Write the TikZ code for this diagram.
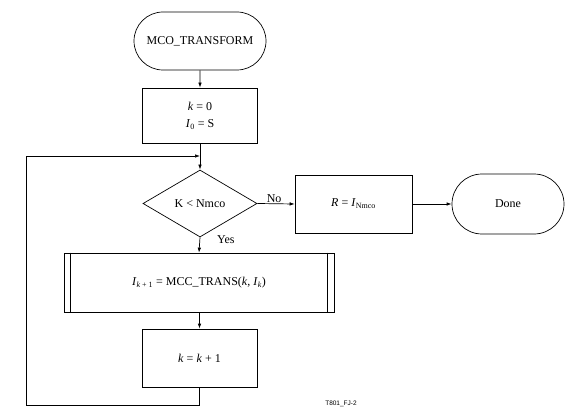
\documentclass[tikz,border=0pt]{standalone}
\usepackage{fontspec}
\setmainfont{Liberation Serif}
\setsansfont{Liberation Sans}
\usetikzlibrary{shapes.geometric,shapes.misc,arrows.meta}
\tikzset{
  base/.style={draw, line width=0.7pt, inner sep=2pt, font=\fontsize{12}{14}\selectfont, align=center},
  term/.style={base, rounded rectangle, minimum width=#1, minimum height=58pt},
  procbox/.style={base, rectangle, minimum width=115pt, minimum height=56pt},
  decision/.style={base, diamond, minimum width=114pt, minimum height=67pt, inner sep=0pt},
  subbox/.style={base, rectangle, minimum width=270pt, minimum height=59pt},
  flow/.style={line width=0.7pt, -{Latex[length=5pt,width=3.5pt]}},
  lbl/.style={font=\fontsize{12}{14}\selectfont, inner sep=1pt}
}
\begin{document}
\begin{tikzpicture}[x=1pt,y=-1pt]
\useasboundingbox[fill=white] (0,0) rectangle (573,417);
\node[term=136pt] (start) at (200,41) {MCO\_TRANSFORM};
\node[procbox, minimum height=55pt] (init) at (200,115.5) {\textit{k} = 0\\[3pt]\textit{I}\textsubscript{0} = S};
\coordinate (merge) at (200,156);
\node[decision] (cond) at (200,203.5) {K < Nmco};
\node[procbox, minimum width=117pt, minimum height=58pt] (res) at (353.5,204) {\textit{R} = \textit{I}\textsubscript{Nmco}};
\node[term=116pt, minimum height=60pt] (done) at (508,204) {Done};
\node[subbox] (sub) at (199,282.5) {\textit{I}\textsubscript{\textit{k} + 1} = MCC\_TRANS(\textit{k}, \textit{I}\textsubscript{\textit{k}})};
\draw[line width=0.7pt] ([xshift=7pt]sub.north west) -- ([xshift=7pt]sub.south west);
\draw[line width=0.7pt] ([xshift=-7pt]sub.north east) -- ([xshift=-7pt]sub.south east);
\node[procbox, minimum height=58pt] (inc) at (199.5,358) {\textit{k} = \textit{k} + 1};
\coordinate (loopbl) at (26,405);
\node[font=\sffamily\fontsize{6.5}{7}\selectfont, inner sep=0pt] (tag) at (341,404) {T801\_FJ-2};

\draw[flow] (start) -- (init);
\draw[line width=0.7pt] (init.south) -- (merge);
\draw[flow] (merge) -- (cond.north);
\draw[flow] (cond.east) -- node[lbl, above, pos=0.45] (no) {No} (res.west);
\draw[flow] (res) -- (done);
\draw[flow] (cond.south) -- (sub.north);
\node[lbl, anchor=west] (yes) at (216,240) {Yes};
\draw[flow] (sub.south) -- (inc.north |- sub.south) -- (inc.north);
\draw[flow] (inc.south) |- (loopbl) |- (merge);
\end{tikzpicture}
\end{document}
